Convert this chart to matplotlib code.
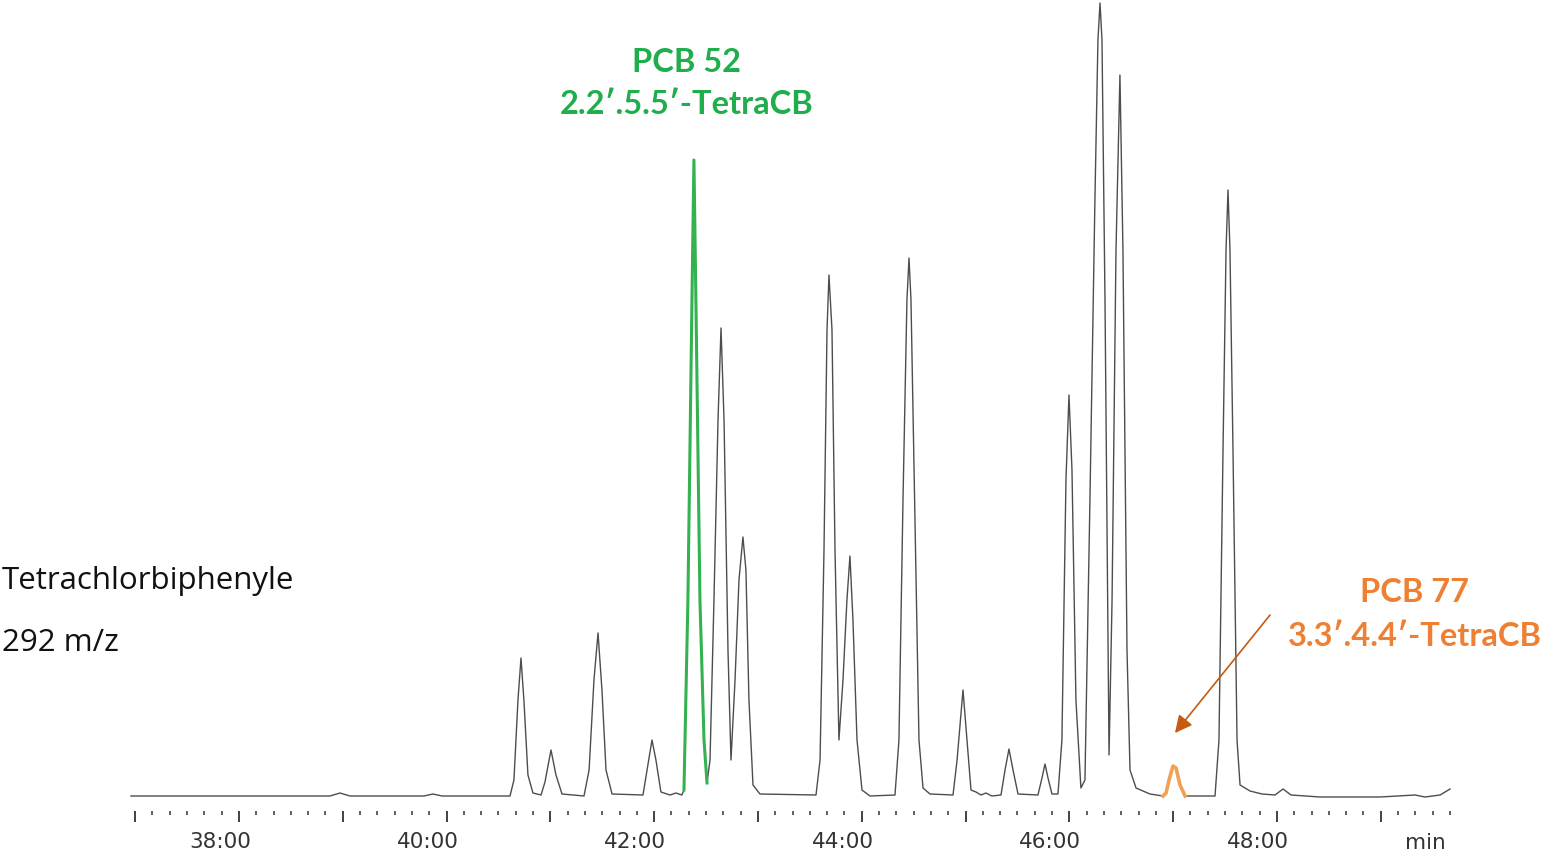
import matplotlib
matplotlib.use("Agg")
import matplotlib.pyplot as plt
import matplotlib.transforms as mtransforms
import numpy as np

# retention time (min) and detector signal (arbitrary units)
rt = [36.960, 38.877, 38.973, 39.069, 39.782, 39.869, 39.956,
      40.611, 40.649, 40.688, 40.717, 40.745, 40.784, 40.832,
      40.910, 40.948, 41.006, 41.054, 41.112,
      41.324, 41.373, 41.420, 41.459, 41.497, 41.536, 41.594,
      41.892, 41.940, 41.979, 42.017, 42.065, 42.152, 42.209, 42.267,
      42.287, 42.325, 42.364, 42.383, 42.402, 42.441, 42.480, 42.509,
      42.538, 42.576, 42.615, 42.644, 42.673, 42.711, 42.740,
      42.779, 42.817, 42.855, 42.884, 42.913, 42.952, 43.019,
      43.559, 43.598, 43.636, 43.665, 43.684, 43.713, 43.742, 43.780,
      43.819, 43.857, 43.886, 43.915, 43.954, 44.002, 44.079,
      44.320, 44.358, 44.397, 44.435, 44.455, 44.474, 44.512, 44.551, 44.590, 44.657,
      44.879, 44.918, 44.975, 45.014, 45.052, 45.100, 45.148, 45.196, 45.253,
      45.341, 45.380, 45.418, 45.457, 45.505,
      45.697, 45.736, 45.765, 45.794, 45.832,
      45.890, 45.928, 45.967, 45.996, 46.025, 46.063, 46.111,
      46.150, 46.198, 46.246, 46.275, 46.295, 46.314, 46.343, 46.382,
      46.411, 46.449, 46.487, 46.516, 46.555, 46.584, 46.642, 46.776, 46.902,
      46.931, 46.960, 46.998, 47.027, 47.066, 47.114,
      47.403, 47.441, 47.480, 47.509, 47.528, 47.547, 47.576, 47.615, 47.644,
      47.740, 47.856, 47.981, 48.058, 48.135, 48.415, 48.993, 49.330, 49.426,
      49.571, 49.667]
signal = [0, 0, 3, 0, 0, 2, 0,
          0, 16, 96, 138, 96, 21, 3,
          1, 14, 46, 21, 2,
          0, 26, 116, 163, 106, 26, 2,
          1, 31, 56, 36, 4, 1, 3, 1,
          6, 196, 496, 636, 496, 196, 56, 13,
          36, 196, 376, 468, 376, 146, 36,
          116, 216, 259, 226, 96, 11, 2,
          1, 36, 246, 466, 521, 466, 246, 56,
          116, 196, 240, 176, 56, 6, 0,
          1, 56, 296, 496, 538, 496, 276, 56, 8, 2,
          1, 36, 106, 56, 6, 4, 1, 3, 0,
          1, 26, 47, 26, 2,
          1, 18, 32, 18, 2,
          2, 56, 316, 401, 326, 96, 8,
          16, 296, 596, 756, 793, 756, 496, 41,
          196, 546, 721, 546, 146, 26, 8, 2, 0,
          3, 16, 30, 28, 11, 0,
          0, 56, 346, 546, 606, 546, 346, 56, 11,
          5, 2, 1, 7, 1, -1, -1, 1, -1,
          1, 7]

# highlighted compounds: (retention window start, end)
pcb52_window = (42.285, 42.510)
pcb77_window = (46.900, 47.116)

major_ticks = np.arange(37, 50, 1)
minor_ticks = np.arange(37, 49.7, 1 / 6)
tick_labels = ["", "38:00", "", "40:00", "", "42:00", "", "44:00", "",
               "46:00", "", "48:00", ""]

rt = np.array(rt)
signal = np.array(signal)

W, H = 1544, 858
fig = plt.figure(figsize=(W / 100, H / 100), dpi=100)
ax = fig.add_axes([120 / W, (H - 811) / H, 1340 / W, 811 / H])
ax.set_xlim(36.854, 49.763)
ax.set_ylim(-15, 796)

ax.plot(rt, signal, color="#4d4d4d", lw=1.0, clip_on=False)

m52 = (rt >= pcb52_window[0]) & (rt <= pcb52_window[1])
ax.plot(rt[m52], signal[m52], color="#33b24f", lw=2.2, clip_on=False, zorder=3)
m77 = (rt >= pcb77_window[0]) & (rt <= pcb77_window[1])
ax.plot(rt[m77], signal[m77], color="#f0a155", lw=2.6, clip_on=False, zorder=3)

for s in ax.spines.values():
    s.set_visible(False)
ax.set_yticks([])
ax.set_xticks(major_ticks)
ax.set_xticklabels(tick_labels)
ax.set_xticks(minor_ticks, minor=True)
ax.tick_params(axis="x", which="major", length=8, width=1.3, color="#333333",
               pad=7, labelsize=15.5, labelcolor="#333333")
ax.tick_params(axis="x", which="minor", length=3, width=1.1, color="#333333")
shift = mtransforms.ScaledTranslation(-0.19, 0, fig.dpi_scale_trans)
for lab in ax.get_xticklabels():
    lab.set_transform(lab.get_transform() + shift)

fig.text(1425 / W, 1 - 843 / H, "min", ha="center", va="center",
         fontsize=15.5, color="#333333")

label_font = ["Lato", "DejaVu Sans"]
lbl = dict(ha="center", va="center", family=label_font, weight="bold",
           fontsize=23.5, clip_on=False)
ax.text(42.316, 734, "PCB 52", color="#1fae4b", **lbl)
ax.text(42.316, 691, "2.2\u2032.5.5\u2032-TetraCB", color="#1fae4b", **lbl)
ax.text(49.329, 204, "PCB 77", color="#ee8033", **lbl)
ax.text(49.329, 160, "3.3\u2032.4.4\u2032-TetraCB", color="#ee8033", **lbl)
ax.annotate("", xy=(47.017, 63), xytext=(47.933, 181),
            arrowprops=dict(arrowstyle="-|>", color="#c55a11", lw=1.2,
                            mutation_scale=26, shrinkA=0, shrinkB=0))

fig.text(2 / W, 1 - 581 / H, "Tetrachlorbiphenyle", ha="left", va="center",
         family=["Open Sans", "DejaVu Sans"], fontsize=22.5, color="#111111")
fig.text(2 / W, 1 - 643 / H, "292 m/z", ha="left", va="center",
         family=["Open Sans", "DejaVu Sans"], fontsize=22.5, color="#111111")

fig.savefig("out.png", dpi=100)
